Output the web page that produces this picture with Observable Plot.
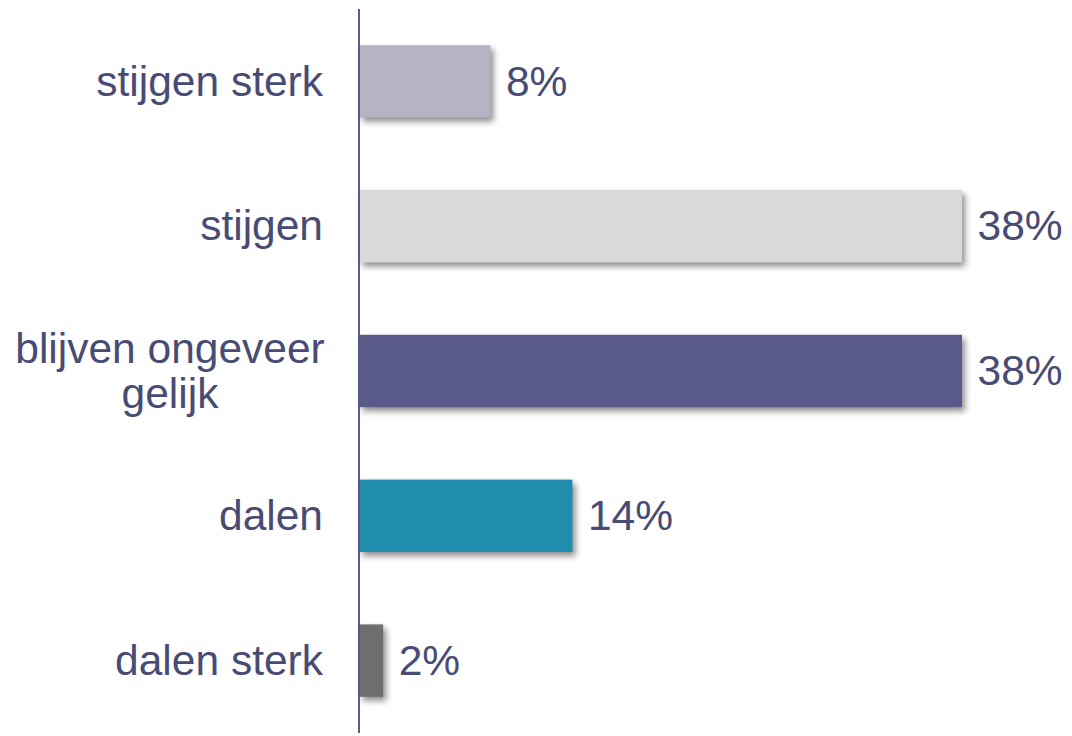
<!DOCTYPE html>
<html>
<head>
<meta charset="utf-8">
<script src="https://cdn.jsdelivr.net/npm/d3@7"></script>
<script src="https://cdn.jsdelivr.net/npm/@observablehq/plot@0.6"></script>
<style>
  html, body { margin: 0; padding: 0; background: #ffffff; }
</style>
</head>
<body>
<div id="chart"></div>
<script>
const categories = ["stijgen sterk", "stijgen", "blijven ongeveer gelijk", "dalen", "dalen sterk"];
const axisLabels = ["stijgen sterk", "stijgen", "blijven ongeveer\ngelijk", "dalen", "dalen sterk"];
const shares = [8.3, 38.2, 38.2, 13.5, 1.5];
const barColors = ["#b4b4c4", "#d9d9d9", "#5a5a8a", "#1f8dab", "#6e6e6e"];

const data = categories.map((c, i) => ({ category: c, label: axisLabels[i], share: shares[i] }));
const single = data.filter(d => !d.label.includes("\n"));
const multi = data.filter(d => d.label.includes("\n"));
const textColor = "#484b73";

const chart = Plot.plot({
  width: 1072,
  height: 736,
  marginLeft: 359.5,
  marginRight: 81.6,
  marginTop: 9,
  marginBottom: 3,
  x: { domain: [0, 40], axis: null },
  y: { domain: categories, paddingInner: 0.5, paddingOuter: 0.25, round: false, axis: null },
  color: { domain: categories, range: barColors },
  style: { fontFamily: "'Liberation Sans', Arial, sans-serif", color: textColor, background: "#ffffff" },
  marks: [
    Plot.barX(data, { x: "share", y: "category", fill: "category" }),
    Plot.text(data, { x: "share", y: "category", text: d => Math.round(d.share) + "%", textAnchor: "start", dx: 15, fontSize: 42.5, fill: textColor }),
    Plot.text(single, { y: "category", frameAnchor: "left", textAnchor: "end", dx: -37, fontSize: 42.5, text: "label", fill: textColor }),
    Plot.text(multi, { y: "category", frameAnchor: "left", textAnchor: "middle", dx: -190, fontSize: 42.5, lineHeight: 1.06, text: "label", fill: textColor }),
    Plot.ruleX([0], { stroke: "#4a4c7c", strokeWidth: 1.8, dx: -1 })
  ]
});

d3.select(chart).selectAll("g[aria-label='bar']")
  .style("filter", "drop-shadow(3px 4px 3px rgba(0,0,0,0.45))");

document.getElementById("chart").appendChild(chart);
</script>
</body>
</html>
